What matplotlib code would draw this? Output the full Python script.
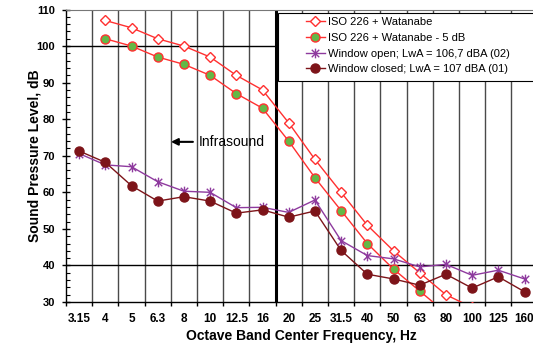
import numpy as np
import matplotlib
matplotlib.use("Agg")
import matplotlib.pyplot as plt
from matplotlib.path import Path
from matplotlib.patches import Rectangle

plt.rcParams['font.family'] = ['Liberation Sans', 'DejaVu Sans']

# octave band centre frequencies (categories)
freqs = ['3.15', '4', '5', '6.3', '8', '10', '12.5', '16', '20', '25',
         '31.5', '40', '50', '63', '80', '100', '125', '160']

# ISO 226 + Watanabe threshold, starts at 4 Hz
iso = [None, 107, 105, 102, 100, 97, 92, 88, 79, 69, 60, 51, 44, 38, 32, 28.5, None, None]
iso_5 = [None, 102, 100, 97, 95, 92, 87, 83, 74, 64, 55, 46, 39, 33, 27, None, None, None]
win_open = [70.6, 67.5, 67.0, 62.9, 60.3, 60.0, 55.8, 55.9, 54.5, 57.9,
            46.8, 42.7, 41.8, 39.6, 40.3, 37.3, 38.7, 36.3]
win_closed = [71.3, 68.2, 61.8, 57.6, 58.8, 57.6, 54.3, 55.2, 53.2, 54.9,
              44.1, 37.6, 36.3, 34.6, 37.6, 33.8, 36.9, 32.8]

labels = ['ISO 226 + Watanabe', 'ISO 226 + Watanabe - 5 dB',
          'Window open; LwA = 106,7 dBA (02)', 'Window closed; LwA = 107 dBA (01)']

def to_arr(v):
    return np.array([np.nan if a is None else a for a in v], dtype=float)

x = np.arange(len(freqs)) + 0.5

# asterisk marker: x plus vertical bar
star = Path([(-1, -1), (1, 1), (-1, 1), (1, -1), (0, -1.3), (0, 1.3)],
            [Path.MOVETO, Path.LINETO, Path.MOVETO, Path.LINETO, Path.MOVETO, Path.LINETO])

W, H = 533, 346
fig = plt.figure(figsize=(W / 100, H / 100), dpi=100)
left, right, top, bottom = 66, 537.6, 9.5, 302
ax = fig.add_axes([left / W, 1 - bottom / H, (right - left) / W, (bottom - top) / H])

red = '#ff3030'
green = '#63b847'
purple = '#8e3a9e'
darkred = '#7d1419'

# grid
for b in range(1, len(freqs)):
    ax.axvline(b, color='#4a4a4a', lw=1.0, zorder=1)
ax.axvline(8, color='black', lw=2.2, zorder=1.5)
for yv in [40, 100]:
    ax.axhline(yv, color='black', lw=1.0, zorder=1)

ax.plot(x, to_arr(iso), color=red, lw=1, marker='D', ms=4.8, mfc='white',
        mec=red, mew=1, label=labels[0], zorder=3)
ax.plot(x, to_arr(iso_5), color=red, lw=1, marker='o', ms=6.5, mfc=green,
        mec=red, mew=1, label=labels[1], zorder=3)
ax.plot(x, win_open, color=purple, lw=1, marker=star, ms=7, mfc=purple,
        mec=purple, mew=1, label=labels[2], zorder=3)
ax.plot(x, win_closed, color=darkred, lw=1, marker='o', ms=6.5, mfc=darkred,
        mec=darkred, label=labels[3], zorder=3)

ax.set_xlim(0, len(freqs))
ax.set_ylim(30, 110)

ax.set_xticks(np.arange(0, len(freqs) + 1))
ax.set_xticklabels([])
ax.set_xticks(x, minor=True)
ax.set_xticklabels(freqs, minor=True, fontsize=8.5, fontweight='bold')
ax.tick_params(axis='x', which='major', direction='out', length=3, width=1)
ax.tick_params(axis='x', which='minor', length=0, pad=8)

ax.set_yticks(np.arange(30, 111, 10))
ax.set_yticks(np.arange(30, 111, 2), minor=True)
ax.set_yticklabels([str(v) for v in range(30, 111, 10)], fontsize=8, fontweight='bold')
ax.tick_params(axis='y', which='major', direction='inout', length=6, width=1, pad=5)
ax.tick_params(axis='y', which='minor', direction='in', length=3, width=0.8)

for s in ['left', 'bottom']:
    ax.spines[s].set_color('black')
    ax.spines[s].set_linewidth(1)
ax.spines['top'].set_color('#777777')

ax.set_xlabel('Octave Band Center Frequency, Hz', fontsize=10, fontweight='bold', labelpad=3)
ax.set_ylabel('Sound Pressure Level, dB', fontsize=10, fontweight='bold')
ax.yaxis.set_label_coords(-0.052, 0.5)

# infrasound annotation
ax.annotate('', xy=(3.9, 73.8), xytext=(4.95, 73.8),
            arrowprops=dict(arrowstyle='-|>', color='black', lw=1.5, mutation_scale=10))
ax.text(5.05, 73.8, 'Infrasound', fontsize=10, va='center', ha='left')

# legend box
fig.add_artist(Rectangle((278 / W, 1 - 81 / H), 270 / W, 68 / H, transform=fig.transFigure,
                         facecolor='white', edgecolor='black', lw=0.8, zorder=5))
handles, labs = ax.get_legend_handles_labels()
leg = fig.legend(handles, labs, loc='upper left', bbox_to_anchor=(306 / W, 1 - 17 / H),
                 frameon=False, fontsize=8, borderpad=0, borderaxespad=0,
                 handlelength=1.7, handletextpad=0.3, labelspacing=0.52)
leg.set_zorder(6)

fig.savefig('out.png', dpi=100)
